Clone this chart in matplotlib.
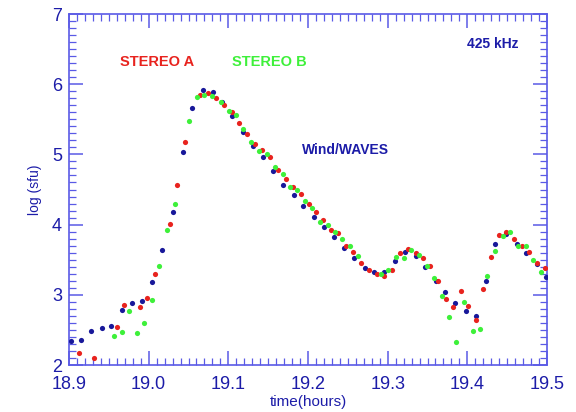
import numpy as np
import matplotlib
matplotlib.use('Agg')
import matplotlib.pyplot as plt
from matplotlib.ticker import MultipleLocator

############### DATA ###############
wind_t = [18.902, 18.915, 18.928, 18.941, 18.953, 18.966, 18.979, 18.992, 19.004, 19.017,
          19.030, 19.043, 19.055, 19.068, 19.081, 19.092, 19.105, 19.119, 19.131, 19.143,
          19.156, 19.169, 19.182, 19.194, 19.207, 19.220, 19.232, 19.245, 19.258, 19.271,
          19.283, 19.296, 19.309, 19.322, 19.335, 19.347, 19.361, 19.372, 19.385, 19.398,
          19.411, 19.423, 19.435, 19.448, 19.462, 19.474, 19.487, 19.499]
wind_v = [2.34, 2.35, 2.48, 2.53, 2.56, 2.79, 2.89, 2.91, 3.18, 3.64,
          4.18, 5.03, 5.66, 5.92, 5.89, 5.75, 5.55, 5.32, 5.12, 4.96,
          4.76, 4.57, 4.42, 4.26, 4.11, 3.97, 3.82, 3.66, 3.53, 3.38,
          3.32, 3.32, 3.48, 3.61, 3.55, 3.39, 3.20, 3.04, 2.89, 2.77,
          2.70, 3.19, 3.73, 3.87, 3.73, 3.60, 3.44, 3.25]

sta_t = [18.912, 18.931, 18.960, 18.969, 18.989, 18.998, 19.008, 19.027, 19.036, 19.046,
         19.065, 19.075, 19.084, 19.094, 19.104, 19.114, 19.124, 19.133, 19.142, 19.152,
         19.162, 19.172, 19.181, 19.191, 19.201, 19.210, 19.219, 19.229, 19.238, 19.248,
         19.257, 19.267, 19.276, 19.286, 19.296, 19.306, 19.315, 19.325, 19.335, 19.344,
         19.353, 19.363, 19.373, 19.382, 19.392, 19.401, 19.411, 19.420, 19.430, 19.440,
         19.449, 19.459, 19.468, 19.478, 19.488, 19.497]
sta_v = [2.17, 2.10, 2.54, 2.86, 2.82, 2.96, 3.29, 4.01, 4.57, 5.18,
         5.84, 5.87, 5.81, 5.70, 5.60, 5.45, 5.29, 5.15, 5.06, 4.97,
         4.78, 4.65, 4.53, 4.43, 4.29, 4.18, 4.06, 3.92, 3.88, 3.69,
         3.61, 3.45, 3.35, 3.29, 3.27, 3.35, 3.59, 3.65, 3.60, 3.53,
         3.41, 3.19, 2.94, 2.82, 3.05, 2.84, 2.64, 3.08, 3.54, 3.85,
         3.90, 3.80, 3.70, 3.61, 3.46, 3.38]

stb_t = [18.956, 18.966, 18.975, 18.985, 18.994, 19.004, 19.013, 19.023, 19.033, 19.051,
         19.061, 19.070, 19.080, 19.091, 19.101, 19.110, 19.119, 19.128, 19.139, 19.149,
         19.158, 19.168, 19.177, 19.186, 19.196, 19.205, 19.215, 19.225, 19.234, 19.243,
         19.253, 19.263, 19.291, 19.301, 19.311, 19.320, 19.329, 19.339, 19.349, 19.358,
         19.368, 19.377, 19.386, 19.396, 19.407, 19.416, 19.425, 19.435, 19.445, 19.454,
         19.464, 19.473, 19.482, 19.493]
stb_v = [2.42, 2.47, 2.77, 2.46, 2.60, 2.93, 3.41, 3.92, 4.30, 5.48,
         5.82, 5.84, 5.83, 5.74, 5.62, 5.56, 5.36, 5.17, 5.05, 5.00,
         4.82, 4.72, 4.54, 4.49, 4.34, 4.23, 4.04, 4.00, 3.89, 3.79,
         3.70, 3.55, 3.29, 3.36, 3.54, 3.53, 3.64, 3.57, 3.41, 3.24,
         2.98, 2.68, 2.33, 2.90, 2.48, 2.51, 3.27, 3.62, 3.84, 3.89,
         3.70, 3.69, 3.49, 3.32]

############### COLOURS & FONT ###############
axis_col = '#5a5ae6'
text_col = '#1c1ca8'
red = '#e8231e'
green = '#3ef03a'
blue = '#18189a'
plt.rcParams['font.family'] = ['Liberation Sans', 'DejaVu Sans']

############### PLOT ###############
fig = plt.figure(figsize=(5.76, 4.12), dpi=100)
ax = fig.add_axes([0.1198, 0.114, 0.8299, 0.852])

ax.scatter(wind_t, wind_v, s=14, color=blue, linewidths=0, zorder=3)
ax.scatter(sta_t, sta_v, s=14, color=red, linewidths=0, zorder=3)
ax.scatter(stb_t, stb_v, s=14, color=green, linewidths=0, zorder=3)

ax.set_xlim(18.9, 19.5)
ax.set_ylim(2, 7)
ax.xaxis.set_major_locator(MultipleLocator(0.1))
ax.xaxis.set_minor_locator(MultipleLocator(0.01))
ax.yaxis.set_major_locator(MultipleLocator(1))
ax.yaxis.set_minor_locator(MultipleLocator(0.1))
ax.xaxis.set_major_formatter(plt.FuncFormatter(lambda v, p: '{:.1f}'.format(v)))
ax.yaxis.set_major_formatter(plt.FuncFormatter(lambda v, p: '{:.0f}'.format(v)))

for s in ax.spines.values():
    s.set_color(axis_col)
    s.set_linewidth(1.2)
ax.tick_params(which='both', direction='in', top=True, right=True, color=axis_col,
               labelcolor=text_col, labelsize=13)
ax.tick_params(which='major', length=10, width=1.1)
ax.tick_params(which='minor', length=5, width=0.9)
ax.tick_params(axis='x', which='major', pad=8)
ax.tick_params(axis='y', which='major', pad=5)

ax.set_xlabel('time(hours)', color=text_col, fontsize=11, labelpad=1)
ax.set_ylabel('log (sfu)', color=text_col, fontsize=10, labelpad=7)

ax.text(0.107, 0.862, 'STEREO A', transform=ax.transAxes, color=red,
        fontsize=10.5, fontweight='bold', va='center')
ax.text(0.341, 0.862, 'STEREO B', transform=ax.transAxes, color=green,
        fontsize=10.5, fontweight='bold', va='center')
ax.text(0.833, 0.914, '425 kHz', transform=ax.transAxes, color=text_col,
        fontsize=10, fontweight='bold', va='center')
ax.text(0.487, 0.612, 'Wind/WAVES', transform=ax.transAxes, color=text_col,
        fontsize=10, fontweight='bold', va='center')

plt.savefig('out.png', dpi=100)
